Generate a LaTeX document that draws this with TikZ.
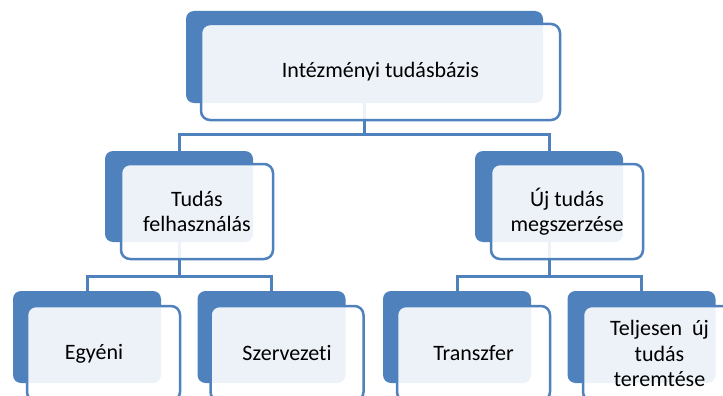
\documentclass[tikz,border=0pt]{standalone}
\usepackage{fontspec}
\setmainfont{Carlito}[Ligatures=NoCommon]
\definecolor{sblue}{HTML}{4F81BD}
\begin{document}
\begin{tikzpicture}[x=1pt,y=-1pt,
  backbox/.style={fill=sblue, draw=none, rounded corners=8pt, inner sep=0pt, outer sep=0pt, minimum width=148pt, minimum height=92pt},
  frontbox/.style={draw=sblue, line width=2.5pt, fill=white, fill opacity=0.9, text opacity=1, rounded corners=9pt, inner sep=0pt, outer sep=0pt, minimum width=153pt, minimum height=95pt, align=center, font=\fontsize{22}{25.5}\selectfont},
  conn/.style={draw=sblue, line width=3pt}]
\useasboundingbox (0,0) rectangle (723,396);
\clip (0,0) rectangle (723,396);
% back boxes
\node[backbox, minimum width=357pt] (tb) at (364.5,57) {};
\node[backbox, minimum height=91pt] (mlb) at (179,196.5) {};
\node[backbox, minimum height=91pt] (mrb) at (549,196.5) {};
\node[backbox] (b1b) at (87,337) {};
\node[backbox] (b2b) at (271.5,337) {};
\node[backbox] (b3b) at (457,337) {};
\node[backbox] (b4b) at (641.5,337) {};
% connectors
\coordinate (j0) at (364.5,134);
\coordinate (j1) at (179,276);
\coordinate (j2) at (549,276);
\draw[conn] (tb.south) -- (j0);
\draw[conn] (mlb.north) |- (j0) -| (mrb.north);
\draw[conn] (mlb.south) -- (j1);
\draw[conn] (b1b.north) |- (j1) -| (b2b.north);
\draw[conn] (mrb.south) -- (j2);
\draw[conn] (b3b.north) |- (j2) -| (b4b.north);
% front boxes
\node[frontbox, minimum width=359pt, minimum height=96pt] (tf) at (380.5,72) {Intézményi tudásbázis};
\node[frontbox, minimum width=152pt] (mlf) at (197,211.5) {Tudás\\felhasználás};
\node[frontbox, minimum width=152pt] (mrf) at (567,211.5) {Új tudás\\megszerzése};
\node[frontbox] (b1f) at (103.5,353.5) {Egyéni\hspace*{19pt}};
\node[frontbox] (b2f) at (287,353.5) {Szervezeti};
\node[frontbox] (b3f) at (473.5,353.5) {Transzfer};
\node[frontbox] (b4f) at (659.5,353.5) {Teljesen~~új\\tudás\\teremtése};
\end{tikzpicture}
\end{document}
